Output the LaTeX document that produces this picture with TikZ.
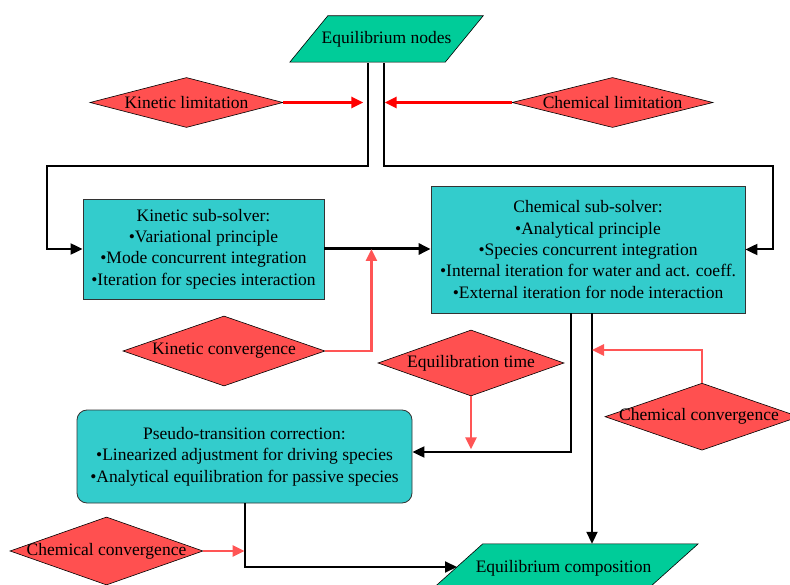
\documentclass[tikz,border=0pt]{standalone}
\usepackage{fontspec}
\setmainfont{Liberation Serif}
\usetikzlibrary{shapes.geometric,arrows.meta,backgrounds}
\definecolor{boxteal}{HTML}{33CCCC}
\definecolor{paragreen}{HTML}{00CC99}
\definecolor{diared}{HTML}{FF5050}
\definecolor{lred}{HTML}{FF5555}
\begin{document}
\begin{tikzpicture}[x=1pt,y=-1pt,
  font=\fontsize{17.5}{21.4}\selectfont,
  box/.style={draw=black!80, line width=0.8pt, fill=boxteal, align=center, inner sep=0pt},
  dia/.style={diamond, draw=black, line width=0.6pt, fill=diared, inner sep=0pt},
  para/.style={fill=paragreen, draw=black, line width=0.6pt},
  ptext/.style={inner sep=0pt},
  blk/.style={draw=black, line width=2pt, -{Triangle[length=12pt,width=11pt]}},
  blkthick/.style={draw=black, line width=3pt, -{Triangle[length=12pt,width=11pt]}},
  redarr/.style={draw=red, line width=3pt, -{Triangle[length=12pt,width=11pt]}},
  lredarr/.style={draw=lred, line width=2.5pt, -{Triangle[length=12pt,width=11pt]}}]
\useasboundingbox (0,0) rectangle (790,585);

% parallelograms
\node[ptext, minimum width=155pt, minimum height=47pt] (en) at (386.5,39.5) {Equilibrium nodes};
\node[ptext, minimum width=215pt, minimum height=48pt] (ec) at (563.5,568) {Equilibrium composition};
\begin{scope}[on background layer]
\path[para] ([xshift=-19pt,yshift=1pt]en.south west) -- ([xshift=-19pt,yshift=1pt]en.south east)
  -- ([xshift=19pt]en.north east) -- ([xshift=19pt]en.north west) -- cycle;
\path[para] ([xshift=-27pt]ec.south west) -- ([xshift=-27pt]ec.south east)
  -- ([xshift=27pt]ec.north east) -- ([xshift=27pt]ec.north west) -- cycle;
\end{scope}

% boxes
\node[box, minimum width=241pt, minimum height=100pt] (kin) at (203.5,249)
 {\raisebox{0pt}[\height][0pt]{}Kinetic sub-solver:\\ •Variational principle\\ •Mode concurrent integration\\ •Iteration for species interaction};
\node[box, minimum width=314pt, minimum height=127pt] (chem) at (588,249.5)
 {Chemical sub-solver:\\ •Analytical principle\\ •Species concurrent integration\\ •Internal iteration for water and act. coeff.\\ •External iteration for node interaction};
\node[box, rounded corners=10pt, minimum width=335pt, minimum height=93pt] (pse) at (244.5,456.5)
 {Pseudo-transition correction:\\ •Linearized adjustment for driving species\\ •Analytical equilibration for passive species};

% diamonds
\node[dia, minimum width=193pt, minimum height=50pt] (kl) at (186.5,102.5) {\makebox[0pt]{Kinetic limitation}};
\node[dia, minimum width=201pt, minimum height=50pt] (cl) at (612.5,102.5) {\makebox[0pt]{Chemical limitation}};
\node[dia, minimum width=202pt, minimum height=70pt] (kc) at (224,351) {\makebox[0pt]{Kinetic convergence}};
\node[dia, minimum width=186pt, minimum height=66pt] (et) at (471,363) {\makebox[0pt]{Equilibration time}};
\node[dia, minimum width=194pt, minimum height=67pt] (cca) at (702,416.7) {\makebox[0pt]{\hspace*{-6pt}Chemical convergence}};
\node[dia, minimum width=193pt, minimum height=68pt] (ccb) at (106.5,551) {\makebox[0pt]{Chemical convergence}};

% coordinates
\coordinate (lk) at (47,166);
\coordinate (rk) at (773,166);
\coordinate (ccain) at (592,350);
\coordinate (ecin) at (457,567);

% black connectors
\draw[blk] ([xshift=-18.5pt]en.south) |- (lk) |- (kin.west);
\draw[blk] ([xshift=-2.5pt]en.south) |- (rk) |- (chem.east);
\draw[blkthick] (kin.east) -- (kin.east -| chem.west);
\draw[blk] ([xshift=-17pt]chem.south) |- ([yshift=4.5pt]pse.east);
\draw[blk] ([xshift=4pt]chem.south) coordinate (cdown) -- (cdown |- ec.north);
\draw[blk] (pse.south) |- (ecin);

% red connectors
\draw[redarr] (kl.east) -- ++(80,0);
\draw[redarr] (cl.west) -- ++(-127,0);
\draw[lredarr] (kc.east) -| ([xshift=47pt]kin.east);
\draw[lredarr] (et.south) -- ++(0,53);
\draw[lredarr] (cca.north) |- (ccain);
\draw[lredarr] (ccb.east) -- (ccb.east -| pse.south);
\end{tikzpicture}
\end{document}
